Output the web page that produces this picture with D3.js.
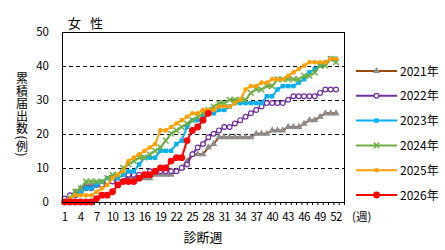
<!DOCTYPE html>
<html>
<head>
<meta charset="utf-8">
<script src="https://cdn.jsdelivr.net/npm/d3@7"></script>
<style>
  body { margin: 0; background: #fff; }
  svg text { font-family: "Noto Sans CJK JP", "DejaVu Sans", sans-serif; fill: #000; }
</style>
</head>
<body>
<div id="chart"></div>
<script>
// weeks 1..52
var weeks = d3.range(1, 53);
var yTicks = [0, 10, 20, 30, 40, 50];
var xTickLabels = [1, 4, 7, 10, 13, 16, 19, 22, 25, 28, 31, 34, 37, 40, 43, 46, 49, 52];
var seriesNames = ["2021年", "2022年", "2023年", "2024年", "2025年", "2026年"];

var v2021 = [0,1,3,4,5,5,5,5,6,6,6,6,7,7,7,7,7,8,8,8,8,9,10,12,14,14,14,16,17,19,19,19,19,19,19,19,20,20,20,21,21,21,22,22,22,23,24,24,25,26,26,26];
var v2022 = [1,2,2,3,4,4,5,5,6,6,6,6,8,8,8,8,9,9,9,9,9,9,10,11,14,16,17,19,20,21,22,22,23,24,25,26,27,28,29,29,29,29,30,31,31,31,31,31,32,33,33,33];
var v2023 = [0,1,2,3,4,4,5,6,7,7,7,8,9,9,11,13,13,13,15,15,15,17,18,22,24,24,25,26,26,27,27,28,29,29,29,29,29,29,31,31,33,34,34,34,35,36,38,39,40,41,42,42];
var v2024 = [0,1,3,4,6,6,6,6,7,8,8,10,11,12,13,13,14,15,16,18,20,21,22,23,24,25,26,27,28,29,29,30,30,30,30,32,33,33,34,34,36,36,36,36,36,37,37,38,40,40,42,41];
var v2025 = [0,1,2,2,2,2,3,4,5,7,8,9,12,13,14,15,16,17,21,21,22,23,24,25,26,26,27,27,27,28,28,28,29,30,33,34,34,35,35,36,36,36,37,38,39,40,41,41,41,41,42,42];
var v2026 = [0,0,0,0,0,0,1,2,2,3,5,6,6,6,7,8,8,9,10,10,12,13,13,18,21,22,24,26];

var allValues = [v2021, v2022, v2023, v2024, v2025, v2026];

var styles = [
  {line: "#9C4A14", marker: "tri", fill: "#8C8C8C", stroke: "#8C8C8C"},
  {line: "#7030A0", marker: "ring", fill: "#fff", stroke: "#7030A0"},
  {line: "#00B0F0", marker: "square", fill: "#00B0F0", stroke: "#00B0F0"},
  {line: "#70AD47", marker: "x", fill: "none", stroke: "#70AD47"},
  {line: "#FFA000", marker: "dot", fill: "#FFA000", stroke: "#FFA000"},
  {line: "#FF0000", marker: "big", fill: "#FF0000", stroke: "#FF0000"}
];

var W = 445, H = 250;
var plot = {left: 62, right: 344, top: 31.5, bottom: 202};

var svg = d3.select("#chart").append("svg")
  .attr("width", W)
  .attr("height", H);

var x = d3.scaleLinear().domain([0.5, 53.5]).range([plot.left, plot.right]);
var y = d3.scaleLinear().domain([0, 50]).range([plot.bottom, plot.top]);

// dashed gridlines
svg.selectAll(".grid")
  .data(yTicks.filter(function(d) { return d > 0 && d < 50; }))
  .enter().append("line")
  .attr("x1", plot.left).attr("x2", plot.right)
  .attr("y1", function(d) { return Math.round(y(d)) + 0.5; })
  .attr("y2", function(d) { return Math.round(y(d)) + 0.5; })
  .attr("stroke", "#000")
  .attr("stroke-width", 1)
  .attr("stroke-dasharray", "4,3");

// y axis labels
var yAxis = d3.axisLeft(y).tickValues(yTicks).tickSize(0).tickPadding(13);
svg.append("g")
  .attr("transform", "translate(" + plot.left + ",0)")
  .call(yAxis)
  .call(function(g) { g.select(".domain").remove(); })
  .selectAll("text")
  .style("font-size", "11.5px");

// x axis: ticks at every week boundary, labels every 3 weeks
var xAxis = d3.axisBottom(x)
  .tickValues(d3.range(0.5, 54, 1))
  .tickSize(3)
  .tickFormat("");
svg.append("g")
  .attr("transform", "translate(0," + plot.bottom + ")")
  .call(xAxis)
  .call(function(g) { g.select(".domain").remove(); });

svg.append("g")
  .selectAll("text")
  .data(xTickLabels)
  .enter().append("text")
  .attr("x", function(d) { return x(d); })
  .attr("y", plot.bottom + 19)
  .attr("text-anchor", "middle")
  .style("font-size", "11.5px")
  .style("letter-spacing", "-0.6px")
  .text(function(d) { return d; });

// series
var line = d3.line()
  .x(function(d, i) { return x(i + 1); })
  .y(function(d) { return y(d); });

function drawMarker(g, type, st, cx, cy) {
  if (type === "tri") {
    g.append("path")
      .attr("d", d3.symbol().type(d3.symbolTriangle).size(22))
      .attr("transform", "translate(" + cx + "," + cy + ")")
      .attr("fill", st.fill);
  } else if (type === "ring") {
    g.append("circle").attr("cx", cx).attr("cy", cy).attr("r", 2.4)
      .attr("fill", st.fill).attr("stroke", st.stroke).attr("stroke-width", 1.2);
  } else if (type === "square") {
    g.append("rect").attr("x", cx - 2.2).attr("y", cy - 2.2)
      .attr("width", 4.4).attr("height", 4.4).attr("fill", st.fill);
  } else if (type === "x") {
    g.append("path")
      .attr("d", d3.symbol().type(d3.symbolX).size(22))
      .attr("transform", "translate(" + cx + "," + cy + ")")
      .attr("stroke", st.stroke).attr("stroke-width", 1.5).attr("fill", "none");
  } else if (type === "dot") {
    g.append("circle").attr("cx", cx).attr("cy", cy).attr("r", 2.3).attr("fill", st.fill);
  } else if (type === "big") {
    g.append("circle").attr("cx", cx).attr("cy", cy).attr("r", 3.4).attr("fill", st.fill);
  }
}

allValues.forEach(function(vals, s) {
  var st = styles[s];
  var g = svg.append("g").attr("class", "series");
  g.append("path")
    .datum(vals)
    .attr("d", line)
    .attr("fill", "none")
    .attr("stroke", st.line)
    .attr("stroke-width", 2);
  vals.forEach(function(v, i) {
    drawMarker(g, st.marker, st, x(i + 1), y(v));
  });
});

// frame
svg.append("rect")
  .attr("x", plot.left + 0.5).attr("y", Math.round(plot.top) + 0.5)
  .attr("width", plot.right - plot.left)
  .attr("height", plot.bottom - Math.round(plot.top))
  .attr("fill", "none")
  .attr("stroke", "#000")
  .attr("stroke-width", 1);

// legend
var legend = svg.append("g");
seriesNames.forEach(function(name, s) {
  var st = styles[s];
  var ly = 71 + s * 24.8;
  legend.append("line")
    .attr("x1", 356).attr("x2", 397)
    .attr("y1", ly).attr("y2", ly)
    .attr("stroke", st.line).attr("stroke-width", 2);
  drawMarker(legend, st.marker, st, 376.5, ly);
  legend.append("text")
    .attr("x", 400).attr("y", ly + 4.5)
    .style("font-size", "12px")
    .text(name);
});

// titles
svg.append("text")
  .attr("x", 68).attr("y", 28)
  .style("font-size", "13px")
  .style("letter-spacing", "3px")
  .text("女 性");

svg.append("text")
  .attr("x", 352).attr("y", plot.bottom + 19)
  .style("font-size", "11.5px")
  .text("(週)");

svg.append("text")
  .attr("x", (plot.left + plot.right) / 2).attr("y", 242)
  .attr("text-anchor", "middle")
  .style("font-size", "13px")
  .text("診断週");

svg.append("text")
  .attr("x", 22).attr("y", 115)
  .attr("text-anchor", "middle")
  .style("writing-mode", "vertical-rl")
  .style("font-size", "12px")
  .style("letter-spacing", "0.5px")
  .text("累積届出数(例)");
</script>
</body>
</html>
